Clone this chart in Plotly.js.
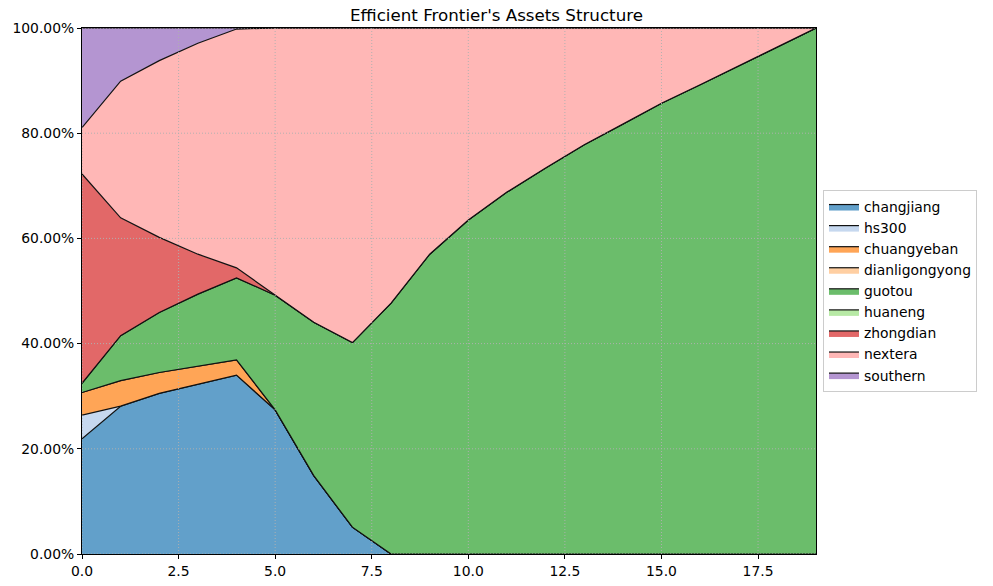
<!DOCTYPE html>
<html>
<head>
<meta charset="utf-8">
<script src="https://cdn.plot.ly/plotly-3.0.1.min.js"></script>
<style>html,body{margin:0;padding:0;background:#fff;}#chart{width:993px;height:586px;}</style>
</head>
<body>
<div id="chart"></div>
<script>
// Portfolio index along the efficient frontier
const xs = [0,1,2,3,4,5,6,7,8,9,10,11,12,13,14,15,16,17,18,19];
// Weights in percent
const changjiang     = [21.9, 28.1, 30.55, 32.3, 34.0, 27.4, 14.9, 5.1, 0, 0, 0, 0, 0, 0, 0, 0, 0, 0, 0, 0];
const hs300          = [4.5, 0, 0, 0, 0, 0, 0, 0, 0, 0, 0, 0, 0, 0, 0, 0, 0, 0, 0, 0];
const chuangyeban    = [4.3, 4.85, 3.95, 3.4, 2.9, 0, 0, 0, 0, 0, 0, 0, 0, 0, 0, 0, 0, 0, 0, 0];
const dianligongyong = [0, 0, 0, 0, 0, 0, 0, 0, 0, 0, 0, 0, 0, 0, 0, 0, 0, 0, 0, 0];
const guotou         = [1.75, 8.55, 11.4, 13.7, 15.6, 21.8, 29.15, 35.1, 47.7, 57.0, 63.5, 68.8, 73.4, 77.8, 81.7, 85.7, 89.2, 92.8, 96.4, 100];
const huaneng        = [0, 0, 0, 0, 0, 0, 0, 0, 0, 0, 0, 0, 0, 0, 0, 0, 0, 0, 0, 0];
const zhongdian      = [39.8, 22.4, 14.3, 7.6, 1.9, 0, 0, 0, 0, 0, 0, 0, 0, 0, 0, 0, 0, 0, 0, 0];
const nextera        = [8.8, 26.0, 33.6, 40.1, 45.4, 50.8, 55.95, 59.8, 52.3, 43.0, 36.5, 31.2, 26.6, 22.2, 18.3, 14.3, 10.8, 7.2, 3.6, 0];
const southern       = [18.95, 10.1, 6.2, 2.9, 0.2, 0, 0, 0, 0, 0, 0, 0, 0, 0, 0, 0, 0, 0, 0, 0];

const names  = ["changjiang","hs300","chuangyeban","dianligongyong","guotou","huaneng","zhongdian","nextera","southern"];
const series = [changjiang, hs300, chuangyeban, dianligongyong, guotou, huaneng, zhongdian, nextera, southern];
const colors = ["rgb(98,160,202)","rgb(198,216,239)","rgb(255,165,86)","rgb(255,207,162)","rgb(107,189,107)","rgb(183,233,165)","rgb(226,104,104)","rgb(255,183,182)","rgb(180,149,209)"];

const xTicks = [0,2.5,5,7.5,10,12.5,15,17.5];
const yTicks = [0,0.2,0.4,0.6,0.8,1.0];

const traces = series.map((s, i) => ({
  x: xs,
  y: s.map(v => v / 100),
  name: names[i],
  type: 'scatter',
  mode: 'lines',
  stackgroup: 'one',
  fillcolor: colors[i],
  line: {color: '#111', width: 1.2},
  hoverinfo: 'x+y+name'
}));

const gridLine = {color: 'rgba(176,176,176,0.95)', width: 1, dash: '1px,2px'};
const shapes = [];
xTicks.forEach(t => shapes.push({type:'line', xref:'x', yref:'paper', x0:t, x1:t, y0:0, y1:1, layer:'above', line:gridLine}));
yTicks.forEach(t => shapes.push({type:'line', xref:'paper', yref:'y', x0:0, x1:1, y0:t, y1:t, layer:'above', line:gridLine}));

const layout = {
  width: 993, height: 586,
  margin: {l: 82, r: 177, t: 28, b: 32},
  paper_bgcolor: '#fff', plot_bgcolor: '#fff',
  font: {family: 'DejaVu Sans', size: 13.9, color: '#000'},
  title: {text: "Efficient Frontier's Assets Structure", font: {family: 'DejaVu Sans', size: 16.7, color: '#000'}, x: 0.5, xanchor: 'center', y: 0.984, yanchor: 'top'},
  xaxis: {range: [0, 19], tickvals: xTicks, ticktext: xTicks.map(t => t.toFixed(1)), showgrid: false, zeroline: false,
          showline: true, mirror: true, linecolor: '#000', linewidth: 1, ticks: 'outside', ticklen: 4, tickcolor: '#000', layer: 'above traces', tickfont: {size: 13.9}},
  yaxis: {range: [0, 1], tickvals: yTicks, tickformat: '.2%', showgrid: false, zeroline: false,
          showline: true, mirror: true, linecolor: '#000', linewidth: 1, ticks: 'outside', ticklen: 4, tickcolor: '#000', layer: 'above traces', tickfont: {size: 13.9}},
  shapes: shapes,
  showlegend: true,
  legend: {x: 1.0095, xanchor: 'left', y: 0.5, yanchor: 'middle', traceorder: 'normal',
           bordercolor: '#cccccc', borderwidth: 1, bgcolor: '#fff', font: {size: 13.9}, itemwidth: 30}
};

Plotly.newPlot('chart', traces, layout, {displayModeBar: false, staticPlot: true});
</script>
</body>
</html>
